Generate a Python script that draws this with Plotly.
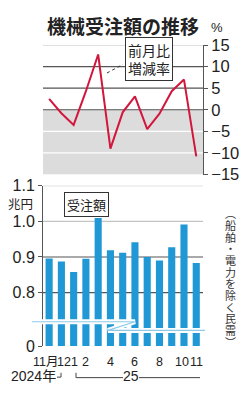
import plotly.graph_objects as go

# ---- data ----
months = ["2024-11", "2024-12", "2025-01", "2025-02", "2025-03", "2025-04", "2025-05",
          "2025-06", "2025-07", "2025-08", "2025-09", "2025-10", "2025-11"]
month_labels = ["11月", "12", "1", "2", "", "4", "", "6", "", "8", "", "10", "11"]
mom_change = [2.5, -0.8, -3.5, 4.3, 12.8, -9.0, -0.6, 3.1, -4.5, -0.9, 4.3, 7.0, -10.8]
orders = [0.896, 0.887, 0.858, 0.895, 1.009, 0.919, 0.912, 0.941, 0.900, 0.890, 0.927, 0.991, 0.883]
top_ticks = [-15, -10, -5, 0, 5, 10, 15]
top_tick_text = ["−15", "−10", "−5", "0", "5", "10", "15"]
bot_ticks_real = [0.8, 0.9, 1.0, 1.1]
bot_tick_text = ["0", "0.8", "0.9", "1.0", "1.1"]
BASE = 0.65  # virtual position of 0 (broken axis)

W, H = 246, 400
JP = "Noto Sans CJK JP"
NUM = "Liberation Sans Narrow, Liberation Sans, Noto Sans CJK JP"
# small horizontal nudges of crowded month labels (style only)
label_nudge = {0: -4, 1: 3, 2: 1, 11: -2.5, 12: 0}

def px(x):
    return x / W

def py(y):
    return 1 - y / H

x_idx = list(range(len(months)))

fig = go.Figure()

# top: line
fig.add_trace(go.Scatter(x=x_idx, y=mom_change, mode="lines",
                         line=dict(color="#d2163c", width=2),
                         xaxis="x", yaxis="y", showlegend=False, hoverinfo="skip"))

# bottom: bars
fig.add_trace(go.Bar(x=x_idx, y=[v - BASE for v in orders], base=BASE,
                     marker=dict(color="#1f98d5", line=dict(width=0)), width=0.58,
                     xaxis="x2", yaxis="y2", showlegend=False, hoverinfo="skip"))

# dots under bars
fig.add_trace(go.Scatter(x=x_idx, y=[BASE - 0.011] * len(x_idx), mode="markers",
                         marker=dict(color="#333", size=2.6), cliponaxis=False,
                         xaxis="x2", yaxis="y2", showlegend=False, hoverinfo="skip"))

shapes = []
# shaded negative area (top)
shapes.append(dict(type="rect", xref="x domain", yref="y", x0=0, x1=1, y0=-15, y1=0,
                   fillcolor="#dcdcdc", line=dict(width=0), layer="below"))
# top gridlines
for t in top_ticks:
    if t == -15:
        continue
    if t < 0:
        col = "white"
    elif t == 15:
        col = "#c4c4c4"
    else:
        col = "#555555"
    shapes.append(dict(type="line", xref="x domain", yref="y", x0=0, x1=1, y0=t, y1=t,
                       line=dict(color=col, width=1.2), layer="below"))
# bottom gridlines
for t in bot_ticks_real:
    col = "#c4c4c4" if t >= 1.0 else "#555555"
    shapes.append(dict(type="line", xref="x2 domain", yref="y2", x0=0, x1=1, y0=t, y1=t,
                       line=dict(color=col, width=1.2), layer="below"))

# axis break symbol
brk = "M {:.4f},{:.4f} L {:.4f},{:.4f} L {:.4f},{:.4f} L {:.4f},{:.4f}".format(
    px(32), py(327.5), px(135), py(327.5), px(108), py(336.5), px(205), py(336.5))
shapes.append(dict(type="path", xref="paper", yref="paper", path=brk,
                   line=dict(color="white", width=5)))
shapes.append(dict(type="path", xref="paper", yref="paper", path=brk,
                   line=dict(color="#8ccaea", width=1.1)))

# leader line for label
shapes.append(dict(type="line", xref="paper", yref="paper", x0=px(107), y0=py(67),
                   x1=px(123), y1=py(58), line=dict(color="#333", width=1, dash="dot")))

# year brackets
bcol = "#444"
shapes.append(dict(type="path", xref="paper", yref="paper",
                   path="M {:.4f},{:.4f} L {:.4f},{:.4f} L {:.4f},{:.4f}".format(
                       px(61), py(381), px(61), py(385.5), px(57), py(385.5)),
                   line=dict(color=bcol, width=1)))
shapes.append(dict(type="path", xref="paper", yref="paper",
                   path="M {:.4f},{:.4f} L {:.4f},{:.4f} L {:.4f},{:.4f}".format(
                       px(76), py(381), px(76), py(386), px(123), py(386)),
                   line=dict(color=bcol, width=1)))
shapes.append(dict(type="line", xref="paper", yref="paper", x0=px(139), x1=px(200),
                   y0=py(386), y1=py(386), line=dict(color=bcol, width=1)))

annotations = []
annotations.append(dict(text="<b>機械受注額の推移</b>", x=px(123), y=py(17), xref="paper", yref="paper",
                        showarrow=False, font=dict(family=JP, size=19, color="#222"),
                        xanchor="center", yanchor="middle"))
annotations.append(dict(text="%", x=px(217), y=py(19), xref="paper", yref="paper",
                        showarrow=False, font=dict(family=NUM, size=13, color="#222"),
                        xanchor="center", yanchor="middle"))
annotations.append(dict(text="前月比<br>増減率", x=px(148.5), y=py(52), xref="paper", yref="paper",
                        showarrow=False, font=dict(family=JP, size=14, color="#222"),
                        bordercolor="#333", borderwidth=1, borderpad=2, bgcolor="white",
                        xanchor="center", yanchor="middle"))
annotations.append(dict(text="受注額", x=px(86), y=py(205), xref="paper", yref="paper",
                        showarrow=False, font=dict(family=JP, size=13, color="#222"),
                        bordercolor="#333", borderwidth=1, borderpad=2, bgcolor="white",
                        xanchor="center", yanchor="middle"))
annotations.append(dict(text="兆円", x=px(20), y=py(204), xref="paper", yref="paper",
                        showarrow=False, font=dict(family=JP, size=12.5, color="#222"),
                        xanchor="center", yanchor="middle"))
annotations.append(dict(text="2024年", x=px(33), y=py(384), xref="paper", yref="paper",
                        showarrow=False, font=dict(family=NUM, size=14, color="#222"),
                        xanchor="center", yanchor="middle"))
annotations.append(dict(text="25", x=px(131), y=py(384), xref="paper", yref="paper",
                        showarrow=False, font=dict(family=NUM, size=14, color="#222"),
                        xanchor="center", yanchor="middle"))
# month labels placed on the bottom x scale
for i, lab in zip(x_idx, month_labels):
    if not lab:
        continue
    annotations.append(dict(text=lab, x=i, xref="x2", y=py(369.5), yref="paper",
                            xshift=label_nudge.get(i, 0), showarrow=False,
                            font=dict(family=NUM, size=12.5, color="#222"),
                            xanchor="center", yanchor="middle"))
# vertical note (one glyph per position)
note = "︵船舶・電力を除く民需︶"
y0, step = 214, 12.2
for k, ch in enumerate(note):
    annotations.append(dict(text=ch, x=px(230), y=py(y0 + k * step), xref="paper", yref="paper",
                            showarrow=False, font=dict(family=JP, size=11, color="#333"),
                            xanchor="center", yanchor="middle"))

xdom = [px(43), px(203)]
fig.update_layout(
    width=W, height=H, margin=dict(l=0, r=0, t=0, b=0),
    paper_bgcolor="white", plot_bgcolor="white",
    showlegend=False, bargap=0.4,
    shapes=shapes, annotations=annotations,
    xaxis=dict(domain=xdom, range=[-0.5, 12.55], showgrid=False, zeroline=False,
               showticklabels=False, ticks="", fixedrange=True, anchor="y"),
    yaxis=dict(domain=[py(173.3), py(37.7)], range=[-15, 15], side="right",
               tickvals=top_ticks, ticktext=top_tick_text, showgrid=False, zeroline=False,
               showline=True, linecolor="#555", linewidth=1, ticks="outside", ticklen=4,
               tickcolor="#555", tickfont=dict(family=NUM, size=16.5, color="#222"),
               anchor="x"),
    xaxis2=dict(domain=xdom, range=[-0.5, 12.55], showgrid=False, zeroline=False,
                showticklabels=False, ticks="", anchor="y2"),
    yaxis2=dict(domain=[py(353), py(185)], range=[BASE, 1.1],
                tickvals=[BASE] + bot_ticks_real, ticktext=bot_tick_text,
                showgrid=False, zeroline=False, showline=True, linecolor="#555", linewidth=1,
                ticks="outside", ticklen=4, tickcolor="#555",
                tickfont=dict(family=NUM, size=16, color="#222"), anchor="x2"),
)

fig.write_html("out.html")
